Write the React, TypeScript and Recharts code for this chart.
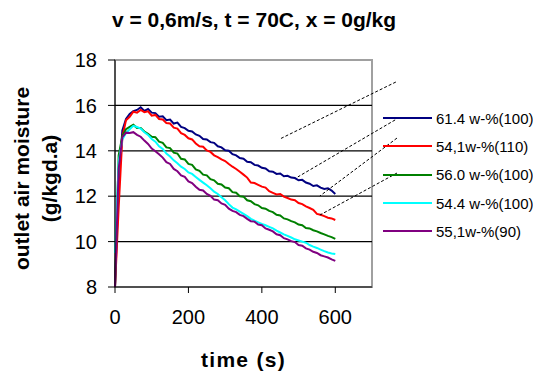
import React from "react";
import {
  LineChart,
  Line,
  XAxis,
  YAxis,
  ReferenceLine,
  ReferenceArea,
} from "recharts";

// time axis (s)
const time = [
  0, 10, 20, 30, 40, 50, 60, 70, 80, 90, 100, 110, 120, 130, 140, 150, 160,
  170, 180, 190, 200, 210, 220, 230, 240, 250, 260, 270, 280, 290, 300, 310,
  320, 330, 340, 350, 360, 370, 380, 390, 400, 410, 420, 430, 440, 450, 460,
  470, 480, 490, 500, 510, 520, 530, 540, 550, 560, 570, 580, 590, 600,
];

// outlet air moisture (g/kgd.a) for each sample
const s614 = [
  8.0, 12.6, 14.9, 15.4, 15.62, 15.75, 15.8, 15.92, 15.76, 15.84, 15.68, 15.66,
  15.5, 15.52, 15.35, 15.38, 15.2, 15.24, 15.05, 15.0, 14.88, 14.85, 14.72,
  14.66, 14.52, 14.5, 14.38, 14.35, 14.2, 14.15, 14.02, 14.0, 13.85, 13.8,
  13.68, 13.65, 13.52, 13.5, 13.38, 13.35, 13.25, 13.22, 13.1, 13.08, 12.98,
  13.0, 12.88, 12.9, 12.82, 12.8, 12.7, 12.72, 12.6, 12.55, 12.45, 12.48,
  12.38, 12.32, 12.35, 12.25, 12.1,
];
const s541 = [
  8.0, 11.5, 14.6, 15.35, 15.5, 15.72, 15.68, 15.8, 15.7, 15.74, 15.55, 15.58,
  15.4, 15.38, 15.22, 15.2, 15.02, 14.98, 14.78, 14.7, 14.55, 14.5, 14.32,
  14.2, 14.18, 14.02, 13.95, 13.8, 13.72, 13.62, 13.55, 13.42, 13.3, 13.2,
  13.08, 12.95, 12.82, 12.6, 12.58, 12.5, 12.42, 12.38, 12.22, 12.15, 12.08,
  12.1, 11.98, 11.92, 11.85, 11.82, 11.7, 11.65, 11.55, 11.48, 11.4, 11.22,
  11.18, 11.12, 11.05, 11.02, 10.95,
];
const s560 = [
  8.0, 13.8, 14.65, 14.95, 15.05, 15.15, 15.0, 15.0, 14.85, 14.75, 14.62, 14.6,
  14.4, 14.35, 14.15, 14.12, 13.92, 13.88, 13.65, 13.62, 13.42, 13.38, 13.18,
  13.12, 12.95, 12.92, 12.75, 12.7, 12.55, 12.52, 12.38, 12.35, 12.18, 12.15,
  12.0, 11.98, 11.82, 11.78, 11.65, 11.6, 11.48, 11.45, 11.35, 11.3, 11.18,
  11.15, 11.02, 10.98, 10.9, 10.85, 10.75, 10.72, 10.6, 10.58, 10.5, 10.45,
  10.38, 10.32, 10.25, 10.2, 10.12,
];
const s544 = [
  9.5, 13.5, 14.5, 14.78, 14.95, 15.1, 15.05, 14.98, 14.82, 14.7, 14.52, 14.4,
  14.2, 14.08, 13.88, 13.75, 13.58, 13.45, 13.3, 13.2, 13.05, 12.98, 12.85,
  12.72, 12.6, 12.48, 12.35, 12.2, 12.1, 11.95, 11.82, 11.65, 11.5, 11.42,
  11.32, 11.22, 11.12, 11.0, 10.92, 10.85, 10.78, 10.72, 10.65, 10.58, 10.48,
  10.4, 10.32, 10.25, 10.18, 10.1, 10.05, 10.0, 9.95, 9.85, 9.78, 9.72, 9.65,
  9.58, 9.52, 9.48, 9.45,
];
const s551 = [
  8.0, 13.2, 14.6, 14.8, 14.78, 14.82, 14.7, 14.62, 14.45, 14.3, 14.1, 13.98,
  13.85, 13.7, 13.5, 13.42, 13.2, 13.1, 12.92, 12.85, 12.65, 12.58, 12.42,
  12.28, 12.25, 12.1, 12.02, 11.85, 11.82, 11.68, 11.62, 11.45, 11.35, 11.3,
  11.18, 11.12, 11.0, 10.9, 10.88, 10.75, 10.72, 10.58, 10.52, 10.45, 10.32,
  10.28, 10.15, 10.1, 10.02, 9.98, 9.85, 9.82, 9.7, 9.65, 9.55, 9.5, 9.4,
  9.35, 9.3, 9.22, 9.15,
];

const seriesNames = [
  "61.4 w-%(100)",
  "54,1w-%(110)",
  "56.0 w-%(100)",
  "54.4 w-%(100)",
  "55,1w-%(90)",
];
const seriesValues = [s614, s541, s560, s544, s551];
const seriesColors = ["#000080", "#ff0000", "#008000", "#00ffff", "#800080"];

const yTicks = [8, 10, 12, 14, 16, 18];
const xTicks = [0, 200, 400, 600];
const gridValues = [10, 12, 14, 16];

// dashed leader lines from the legend towards the curves (data units)
const leaders = [
  [765, 17.03, 449, 14.52],
  [763, 15.36, 498, 12.85],
  [768, 14.56, 558, 12.01],
  [768, 13.02, 558, 11.17],
];

const chartData = time.map((t, i) => {
  const row: any = { t };
  seriesNames.forEach((name, k) => {
    row["s" + k] = seriesValues[k][i];
  });
  return row;
});

const FONT = "'Liberation Sans', Arial, sans-serif";

const YLabel = (props: any) => {
  const vb = props.viewBox || { y: 52, height: 227 };
  const cy = vb.y + vb.height / 2 + 5;
  const common = {
    textAnchor: "middle" as const,
    fontFamily: FONT,
    fontWeight: 700,
    fontSize: 21,
    fill: "#000",
  };
  return (
    <g>
      <text x={21} y={cy} transform={`rotate(-90 21 ${cy})`} {...common}>
        outlet air moisture
      </text>
      <text x={49} y={cy} transform={`rotate(-90 49 ${cy})`} {...common}>
        (g/kgd.a)
      </text>
    </g>
  );
};

const App: React.FC = () => {
  return (
    <div style={{ position: "relative", width: 533, height: 366 }}>
      <LineChart
        width={533}
        height={366}
        data={chartData}
        margin={{ top: 52, right: 169, left: 0, bottom: 7 }}
        style={{ fontFamily: FONT }}
      >
        <ReferenceArea
          x1={0}
          x2={700}
          y1={8}
          y2={18}
          fill="none"
          stroke="#a0a0a0"
          strokeWidth={2}
        />
        {gridValues.map((v) => (
          <ReferenceLine key={v} y={v} stroke="#000" strokeWidth={1.2} />
        ))}
        <XAxis
          dataKey="t"
          type="number"
          domain={[0, 700]}
          ticks={xTicks}
          interval={0}
          height={80}
          tickSize={6}
          tickMargin={17}
          axisLine={{ stroke: "#000" }}
          tickLine={{ stroke: "#000" }}
          tick={{ fill: "#000", fontSize: 20, fontFamily: FONT }}
          label={{
            value: "time (s)",
            position: "insideBottom",
            offset: 0,
            fill: "#000",
            fontSize: 21,
            fontWeight: 700,
            fontFamily: FONT,
            letterSpacing: 1.3,
          }}
        />
        <YAxis
          type="number"
          domain={[8, 18]}
          ticks={yTicks}
          interval={0}
          width={107}
          tickSize={7}
          tickMargin={11}
          axisLine={{ stroke: "#000" }}
          tickLine={{ stroke: "#000" }}
          tick={{ fill: "#000", fontSize: 20, fontFamily: FONT }}
          label={{ content: YLabel }}
        />
        {seriesNames.map((name, k) => (
          <Line
            key={name}
            type="linear"
            dataKey={"s" + k}
            name={name}
            stroke={seriesColors[k]}
            strokeWidth={2}
            dot={false}
            activeDot={false}
            isAnimationActive={false}
          />
        ))}
        {leaders.map((l, i) => (
          <ReferenceLine
            key={"lead" + i}
            segment={[
              { x: l[0], y: l[1] },
              { x: l[2], y: l[3] },
            ]}
            ifOverflow="visible"
            stroke="#000"
            strokeWidth={1}
            strokeDasharray="3 2"
          />
        ))}
      </LineChart>
      <svg
        width={533}
        height={40}
        style={{ position: "absolute", left: 0, top: 0, pointerEvents: "none" }}
      >
        <text
          x={246}
          y={19}
          textAnchor="middle"
          fontFamily={FONT}
          fontWeight={700}
          fontSize={21}
          fill="#000"
        >
          v = 0,6m/s, t = 70C, x = 0g/kg
        </text>
      </svg>
      <div
        style={{
          position: "absolute",
          left: 375,
          top: 96,
          fontFamily: FONT,
          fontSize: 15,
          color: "#000",
        }}
      >
        {seriesNames.map((name, k) => (
          <div
            key={name}
            style={{ display: "flex", alignItems: "center", height: 28.3 }}
          >
            <div
              style={{
                width: 49,
                height: 2,
                background: seriesColors[k],
                marginRight: 4,
              }}
            />
            <span style={{ whiteSpace: "nowrap" }}>{name}</span>
          </div>
        ))}
      </div>
    </div>
  );
};

export default App;
